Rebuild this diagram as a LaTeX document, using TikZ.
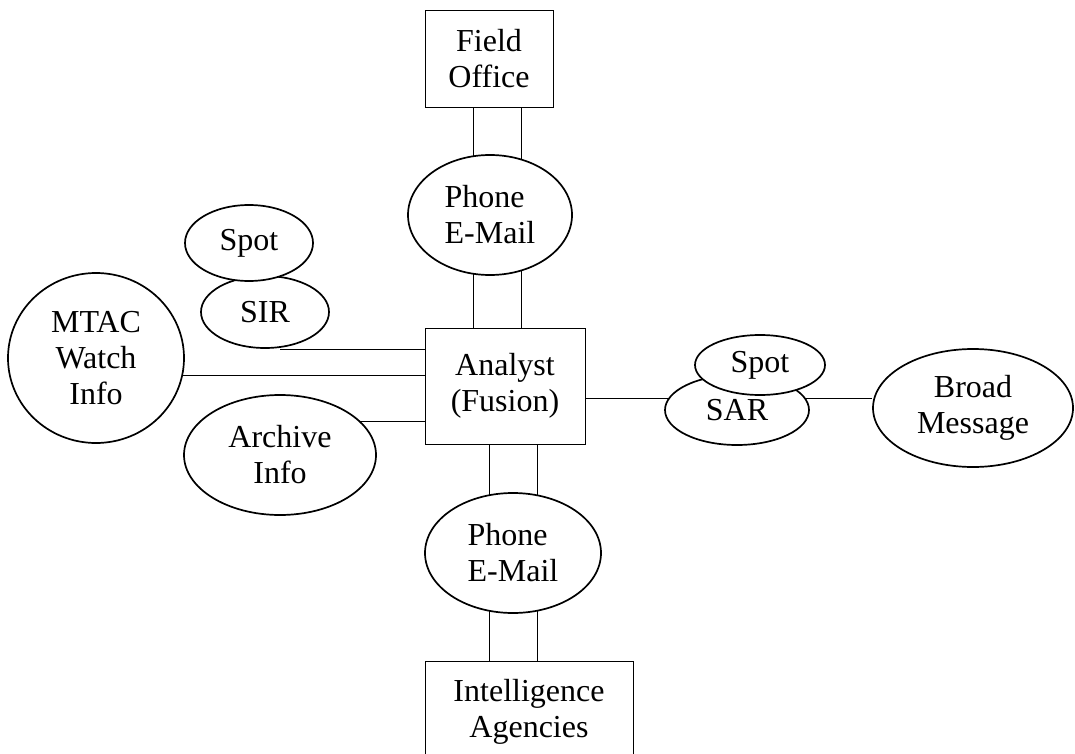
\documentclass[tikz,border=0pt]{standalone}
\usepackage{fontspec}
\setmainfont{Liberation Serif}
\usetikzlibrary{shapes.geometric, backgrounds}
\tikzset{
	line width = 2pt,
	font = \fontsize{32}{36}\selectfont,
	box/.style={
		draw,
		rectangle,
		fill=white,
		inner sep=0pt,
		align=center
	},
	bubble/.style={
		draw,
		ellipse,
		fill=white,
		line width=1.7pt,
		inner sep=0pt,
		align=center
	}
}

\begin{document}
\begin{tikzpicture}[x=1pt, y=-1pt]
\useasboundingbox (0,0) rectangle (1075,754);
\clip (0,0) rectangle (1075,754);

% ---
% Boxes
% ---
\node[box, minimum width=128pt, minimum height=97pt] (field) at (489,58.5) {Field\\Office};
\node[box, minimum width=160pt, minimum height=116pt] (analyst) at (505,386) {Analyst\\(Fusion)};
\node[box, minimum width=208pt, minimum height=101pt] (intel) at (529,711.5) {Intelligence\\Agencies};

% ---
% Phone / E-Mail
% ---
\node[bubble, align=left, minimum width=164pt, minimum height=120pt] (phoneA) at (490,215) {Phone\\E-Mail};
\node[bubble, align=left, minimum width=176pt, minimum height=120pt] (phoneB) at (513,553) {Phone\\E-Mail};

\begin{scope}[on background layer]
\foreach \dx in {-16,32} {
	\draw ([xshift=\dx pt]field.south) -- ([xshift=\dx pt]field.south |- analyst.north);
	\draw ([xshift=\dx pt]analyst.south) -- ([xshift=\dx pt]analyst.south |- intel.north);
}
\end{scope}

% ---
% Left side
% ---
\node[bubble, minimum width=176pt, minimum height=170pt] (mtac) at (96,358) {MTAC\\Watch\\Info};
\node[bubble, minimum width=128pt, minimum height=72pt] (sir) at (265,312) {SIR};
\node[bubble, minimum width=128pt, minimum height=76pt] (spotA) at (249,243) {Spot};
\node[bubble, minimum width=192pt, minimum height=120pt] (archive) at (280,455) {Archive\\Info};

\draw ([xshift=15pt]sir.south) -- (sir.south -| analyst.west);
\draw (mtac.-11) -- (mtac.-11 -| analyst.west);
\draw (archive.23) -- (archive.23 -| analyst.west);

% ---
% Right side
% ---
\node[bubble, minimum width=144pt, minimum height=70pt] (sar) at (737,410) {SAR};
\node[bubble, minimum width=130pt, minimum height=60pt] (spotB) at (760,365) {Spot};
\node[bubble, minimum width=200pt, minimum height=118pt] (broad) at (973,408) {Broad\\Message};

\draw (sar.170) -- (sar.170 -| analyst.east);
\draw (sar.10) -- (sar.10 -| broad.west);
\end{tikzpicture}
\end{document}
